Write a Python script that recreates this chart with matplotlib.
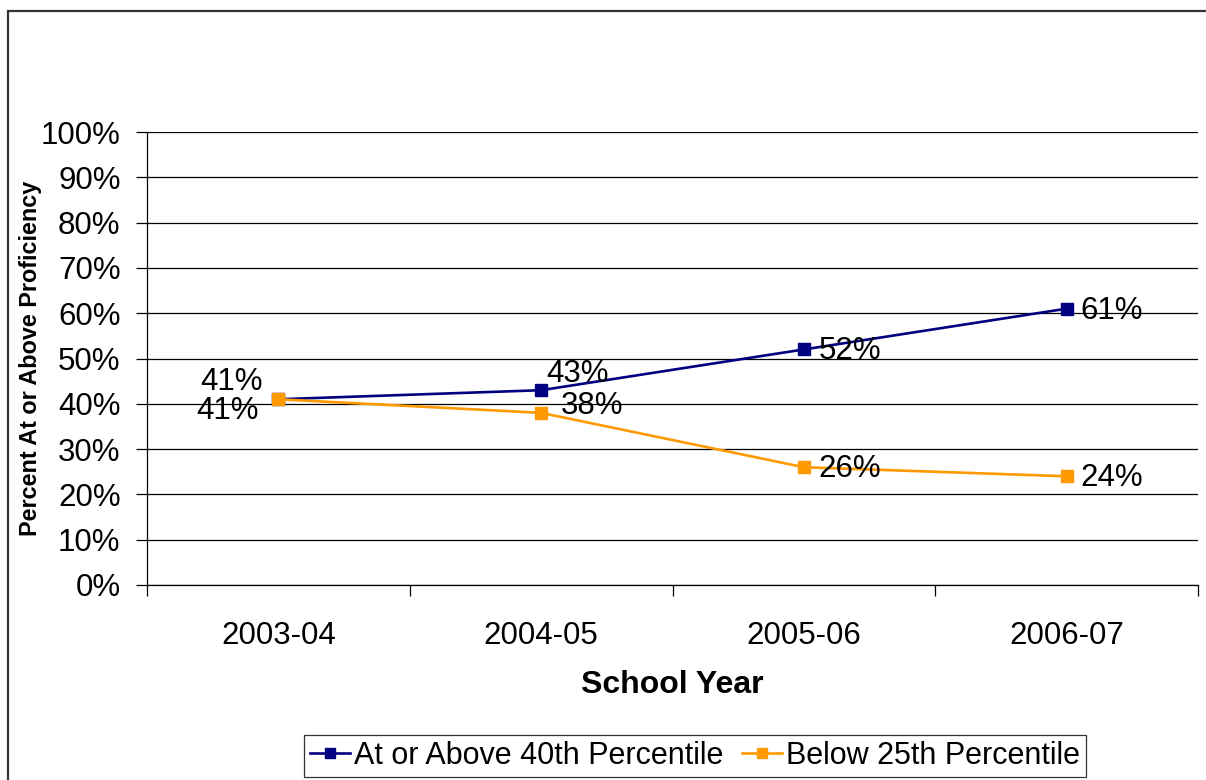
import matplotlib
matplotlib.use("Agg")
import matplotlib.pyplot as plt
from matplotlib.patches import Rectangle

plt.rcParams['font.family'] = ['Liberation Sans', 'DejaVu Sans']

years = ["2003-04", "2004-05", "2005-06", "2006-07"]
at_or_above_40th = [41, 43, 52, 61]
below_25th = [41, 38, 26, 24]
y_ticks = list(range(0, 101, 10))

navy = "#000080"
orange = "#FF9900"
FS = 22.5

W, H = 1206, 780
fig = plt.figure(figsize=(W / 100, H / 100), dpi=100)
ax = fig.add_axes([147 / W, 1 - 585 / H, (1198 - 147) / W, (585 - 132) / H])

x = list(range(len(years)))
ax.plot(x, at_or_above_40th, color=navy, lw=1.9, marker="s", ms=8,
        label="At or Above 40th Percentile", zorder=3)
ax.plot(x, below_25th, color=orange, lw=1.9, marker="s", ms=8,
        label="Below 25th Percentile", zorder=3)

# value labels, offsets in pixels (dx, dy, horizontal alignment)
top_offsets = [(-16, 19, "right"), (5, 18, "left"), (15, 0, "left"), (14, 0, "left")]
bot_offsets = [(-20, -10, "right"), (20, 9, "left"), (15, 0, "left"), (14, 0, "left")]
for i, v in enumerate(at_or_above_40th):
    dx, dy, ha = top_offsets[i]
    ax.annotate(f"{v}%", (i, v), xytext=(dx, dy - 2), textcoords="offset pixels",
                ha=ha, va="center", fontsize=FS, zorder=4)
for i, v in enumerate(below_25th):
    dx, dy, ha = bot_offsets[i]
    ax.annotate(f"{v}%", (i, v), xytext=(dx, dy - 2), textcoords="offset pixels",
                ha=ha, va="center", fontsize=FS, zorder=4)

ax.set_xlim(-0.5, 3.5)
ax.set_ylim(0, 100)
ax.set_yticks(y_ticks)
ax.set_yticklabels([f"{t}%" for t in y_ticks], fontsize=FS)
ax.yaxis.grid(True, color="black", lw=0.9)
ax.set_axisbelow(True)

# category ticks sit on the boundaries between years
ax.set_xticks([i - 0.5 for i in range(len(years) + 1)])
ax.set_xticklabels([])
ax.set_xticks(x, minor=True)
ax.set_xticklabels(years, minor=True, fontsize=FS)
ax.tick_params(axis="x", which="minor", length=0, pad=26)
ax.tick_params(axis="x", which="major", length=8, width=0.9, color="black")
ax.tick_params(axis="y", length=8, width=0.9, pad=11)

for s in ["top", "right"]:
    ax.spines[s].set_visible(False)
ax.spines["left"].set_linewidth(0.9)
ax.spines["bottom"].set_linewidth(0.9)

ax.set_xlabel("School Year", fontsize=23, fontweight="bold")
ax.xaxis.set_label_coords(0.5, -(685 - 585) / 453)
ax.xaxis.label.set_va("center")
ax.set_ylabel("Percent At or Above Proficiency", fontsize=16.8, fontweight="bold")
ax.yaxis.set_label_coords((31 - 147) / 1051, 0.5)
ax.yaxis.label.set_va("center")

leg = fig.legend(loc="center", bbox_to_anchor=(695 / W, 1 - 756 / H), ncol=2,
                 fontsize=22, frameon=True, fancybox=False, edgecolor="black",
                 handlelength=1.3, handletextpad=0.13, columnspacing=0.6,
                 borderpad=0.2, borderaxespad=0, markerscale=0.9)
leg.get_frame().set_linewidth(0.9)

# outer chart frame
fig.patches.append(Rectangle((8 / W, -0.1), 1.2, 1 - 11 / H + 0.1,
                             transform=fig.transFigure, fill=False,
                             edgecolor="#333333", lw=1.6))

fig.savefig("out.png", dpi=100)
